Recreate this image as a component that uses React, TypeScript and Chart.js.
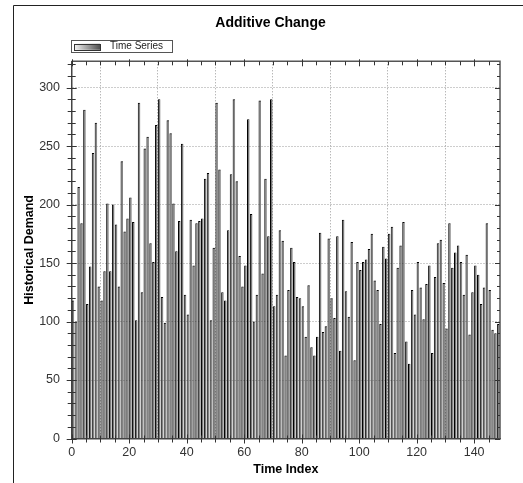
import React, { useEffect, useRef } from 'react';
import { Chart, registerables } from 'chart.js';

Chart.register(...registerables);

// ---- data ----
const chartTitle = 'Additive Change';
const seriesLabel = 'Time Series';
const xTitle = 'Time Index';
const yTitle = 'Historical Demand';

const demand: number[] = [
  118, 100, 215, 184, 281, 115, 147, 244, 270, 130,
  118, 143, 201, 143, 200, 183, 130, 237, 177, 188,
  206, 185, 101, 287, 125, 248, 258, 167, 151, 268,
  290, 121, 99, 272, 261, 201, 160, 186, 252, 123,
  106, 187, 148, 184, 186, 188, 222, 227, 101, 163,
  287, 230, 125, 118, 178, 226, 290, 220, 156, 130,
  148, 273, 192, 100, 123, 289, 141, 222, 173, 290,
  113, 123, 178, 169, 71, 127, 163, 151, 121, 120,
  113, 87, 131, 78, 71, 87, 176, 91, 96, 171,
  120, 103, 173, 75, 187, 126, 104, 168, 67, 151,
  144, 151, 153, 162, 175, 135, 127, 98, 164, 154,
  175, 181, 73, 146, 165, 185, 83, 64, 127, 106,
  151, 129, 102, 132, 148, 73, 138, 167, 170, 133,
  94, 184, 146, 159, 165, 151, 123, 157, 89, 125,
  148, 140, 115, 129, 184, 127, 93, 90, 98,
];
const timeIndex: number[] = demand.map((_, i) => i);

const xTickValues = [0, 20, 40, 60, 80, 100, 120, 140];
const yTickValues = [0, 50, 100, 150, 200, 250, 300];

const X_MAX = 149;
const Y_MAX = 322.5;
const FONT = 'Arial, "Liberation Sans", Helvetica, sans-serif';

const decorations = {
  id: 'decorations',
  afterDraw(chart: any) {
    const { ctx, chartArea: ca } = chart;
    const xs = chart.scales.x;
    const ys = chart.scales.y;
    ctx.save();

    // outer frame (left + top)
    ctx.strokeStyle = '#222';
    ctx.lineWidth = 1;
    ctx.beginPath();
    ctx.moveTo(13.5, chart.height);
    ctx.lineTo(13.5, 5.5);
    ctx.lineTo(chart.width, 5.5);
    ctx.stroke();

    // top & right axis lines
    ctx.strokeStyle = '#555';
    ctx.lineWidth = 1.5;
    ctx.beginPath();
    ctx.moveTo(ca.left, ca.top);
    ctx.lineTo(ca.right, ca.top);
    ctx.lineTo(ca.right, ca.bottom);
    ctx.stroke();

    // tick marks
    ctx.lineWidth = 1;
    ctx.strokeStyle = '#333';
    ctx.beginPath();
    for (let v = 0; v <= X_MAX; v += 5) {
      const px = Math.round(xs.getPixelForValue(v)) + 0.5;
      const major = v % 20 === 0;
      ctx.moveTo(px, ca.bottom - (major ? 4 : 3));
      ctx.lineTo(px, ca.bottom + (major ? 5 : 4));
      ctx.moveTo(px, ca.top - (major ? 2 : 0));
      ctx.lineTo(px, ca.top + (major ? 5 : 4));
    }
    for (let v = 0; v <= Y_MAX; v += 10) {
      const py = Math.round(ys.getPixelForValue(v)) + 0.5;
      const major = v % 50 === 0;
      ctx.moveTo(ca.left - (major ? 5 : 4), py);
      ctx.lineTo(ca.left + (major ? 5 : 4), py);
      ctx.moveTo(ca.right - (major ? 5 : 3), py);
      ctx.lineTo(ca.right, py);
    }
    ctx.stroke();

    // legend frame and gradient swatch
    const legend = chart.legend;
    if (legend && legend.legendHitBoxes && legend.legendHitBoxes.length) {
      const hb = legend.legendHitBoxes[0];
      const cy = hb.top + hb.height / 2;
      const sx = hb.left;
      ctx.strokeStyle = '#555';
      ctx.lineWidth = 1;
      ctx.strokeRect(Math.round(sx - 3.3) + 0.5, Math.round(cy - 6) + 0.5, 101, 12);
      const g = ctx.createLinearGradient(sx, 0, sx + 26, 0);
      g.addColorStop(0, '#f4f4f4');
      g.addColorStop(1, '#505050');
      ctx.fillStyle = g;
      ctx.fillRect(sx, cy - 2.5, 26, 6);
      ctx.strokeStyle = '#333';
      ctx.strokeRect(Math.round(sx) + 0.5, Math.round(cy - 2.5) + 0.5, 26, 6);
    }
    ctx.restore();
  },
};

export default function App() {
  const canvasRef = useRef<HTMLCanvasElement | null>(null);

  useEffect(() => {
    if (!canvasRef.current) return;
    const chart = new Chart(canvasRef.current, {
      type: 'bar',
      data: {
        datasets: [
          {
            label: seriesLabel,
            data: timeIndex.map((t, i) => ({ x: t + 0.42, y: demand[i] })),
            backgroundColor: '#767676',
            borderColor: '#000000',
            borderWidth: { left: 1, right: 0.4, top: 1, bottom: 0 },
            barPercentage: 0.86,
            categoryPercentage: 1,
            xAxisID: 'x',
            yAxisID: 'y',
          } as any,
        ],
      },
      options: {
        animation: false,
        responsive: false,
        devicePixelRatio: 1,
        layout: { padding: { left: 18, right: 0, top: 0, bottom: 0 } },
        plugins: {
          title: {
            display: true,
            text: chartTitle,
            color: '#000',
            font: { family: FONT, size: 14, weight: 'bold' },
            padding: { top: 15.1, bottom: 7.1 },
          },
          legend: {
            display: true,
            position: 'top',
            align: 'start',
            fullSize: false,
            labels: {
              color: '#222',
              font: { family: FONT, size: 10 },
              boxWidth: 31,
              boxHeight: 6,
              padding: 2.3,
              generateLabels: (c: any) =>
                (Chart.defaults.plugins.legend.labels as any)
                  .generateLabels(c)
                  .map((l: any) => ({
                    ...l,
                    fillStyle: 'rgba(0,0,0,0)',
                    strokeStyle: 'rgba(0,0,0,0)',
                    lineWidth: 0,
                  })),
            },
          },
          tooltip: { enabled: false },
        },
        scales: {
          x: {
            type: 'linear',
            position: 'bottom',
            min: 0,
            max: X_MAX,
            offset: false,
            grid: { color: '#9a9a9a', lineWidth: 1, drawTicks: false },
            border: { display: true, color: '#444', width: 1.5, dash: [1, 2] },
            ticks: {
              color: '#333',
              font: { family: FONT, size: 12.5 },
              padding: 7,
              maxRotation: 0,
              autoSkip: false,
              includeBounds: false,
            },
            afterBuildTicks: (s: any) => {
              s.ticks = xTickValues.map((value) => ({ value }));
            },
            title: {
              display: true,
              text: xTitle,
              color: '#000',
              font: { family: FONT, size: 12.5, weight: 'bold' },
              padding: { top: 0, bottom: 5.7 },
            },
            afterFit: (s: any) => {
              s.height = 44.5;
            },
          },
          y: {
            type: 'linear',
            position: 'left',
            min: 0,
            max: Y_MAX,
            grid: { color: '#9a9a9a', lineWidth: 1, drawTicks: false },
            border: { display: true, color: '#444', width: 1.5, dash: [1, 2] },
            ticks: {
              color: '#333',
              font: { family: FONT, size: 12.5 },
              padding: 11.7,
              includeBounds: false,
            },
            afterBuildTicks: (s: any) => {
              s.ticks = yTickValues.map((value) => ({ value }));
            },
            title: {
              display: true,
              text: yTitle,
              color: '#000',
              font: { family: FONT, size: 12.5, weight: 'bold' },
              padding: { top: 4.5, bottom: 0 },
            },
            afterFit: (s: any) => {
              s.width = 53.7;
            },
          },
          y2: {
            type: 'linear',
            position: 'right',
            display: true,
            grid: { display: false },
            border: { display: false },
            ticks: { display: false },
            afterFit: (s: any) => {
              s.width = 23;
            },
          },
        },
      } as any,
      plugins: [decorations],
    });
    return () => chart.destroy();
  }, []);

  return (
    <div style={{ position: 'absolute', left: 0, top: 0, width: 523, height: 483, overflow: 'hidden', background: '#fff' }}>
      <canvas ref={canvasRef} width={523} height={483} style={{ display: 'block', width: 523, height: 483 }} />
    </div>
  );
}
